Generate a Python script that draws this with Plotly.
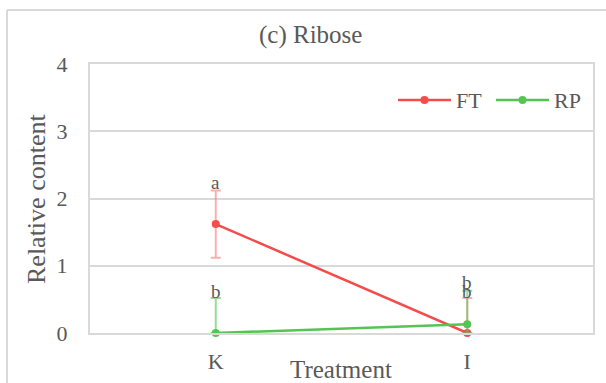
import plotly.graph_objects as go

categories = ["K", "I"]
ft_values = [1.62, 0.0]
ft_errors = [0.5, 0.52]
ft_letters = ["a", "b"]
rp_values = [0.0, 0.13]
rp_errors = [0.52, 0.5]
rp_letters = ["b", "b"]
series_names = ["FT", "RP"]

FONT = "Liberation Serif"
TXT = "#595959"
GRID = "#d9d9d9"

W, H = 606, 383
L, R, T, B = 90, 13, 64, 50
PW, PH = W - L - R, H - T - B

def px_x(px):
    return (px - L) / PW

def px_y(py):
    return (H - B - py) / PH

fig = go.Figure()

series = [
    (series_names[0], ft_values, ft_errors, ft_letters, "#f44b4b", "rgba(250,120,120,0.6)"),
    (series_names[1], rp_values, rp_errors, rp_letters, "#55c455", "rgba(100,200,100,0.65)"),
]

for name, vals, errs, letters, col, ecol in series:
    fig.add_trace(go.Scatter(
        x=categories, y=vals, name=name, mode="lines+markers",
        line=dict(color=col, width=2.5),
        marker=dict(color=col, size=8),
        cliponaxis=False, showlegend=False,
        error_y=dict(type="data", array=errs,
                     arrayminus=[min(e, v) for e, v in zip(errs, vals)],
                     color=ecol, thickness=2, width=5),
    ))

annotations = []
for name, vals, errs, letters, col, ecol in series:
    for c, v, e, t in zip(categories, vals, errs, letters):
        annotations.append(dict(
            x=c, y=v, xref="x", yref="y", text=t, showarrow=False,
            yanchor="middle", yshift=42,
            font=dict(family=FONT, size=19, color=TXT),
        ))

annotations.append(dict(
    x=px_x(36), y=px_y(199), xref="paper", yref="paper", text="Relative content",
    textangle=-90, showarrow=False, xanchor="center", yanchor="middle",
    font=dict(family=FONT, size=26, color=TXT),
))
annotations.append(dict(
    x=px_x(341), y=px_y(370), xref="paper", yref="paper", text="Treatment",
    showarrow=False, xanchor="center", yanchor="middle",
    font=dict(family=FONT, size=25, color=TXT),
))
annotations.append(dict(
    x=px_x(310), y=px_y(35), xref="paper", yref="paper", text="(c) Ribose",
    showarrow=False, xanchor="center", yanchor="middle",
    font=dict(family=FONT, size=25, color=TXT),
))

shapes = [
    dict(type="line", xref="paper", yref="paper", x0=px_x(7), x1=px_x(7),
         y0=px_y(10), y1=px_y(420), line=dict(color=GRID, width=2)),
    dict(type="line", xref="paper", yref="paper", x0=px_x(7), x1=px_x(620),
         y0=px_y(10), y1=px_y(10), line=dict(color=GRID, width=2)),
]

# custom legend (long line samples like the original)
leg_y = px_y(100)
leg_start = [398, 496]
for (name, vals, errs, letters, col, ecol), x0 in zip(series, leg_start):
    x1 = x0 + 53
    xm = (x0 + x1) / 2
    shapes.append(dict(type="line", xref="paper", yref="paper",
                       x0=px_x(x0), x1=px_x(x1), y0=leg_y, y1=leg_y,
                       line=dict(color=col, width=2.5)))
    shapes.append(dict(type="circle", xref="paper", yref="paper",
                       x0=px_x(xm - 4), x1=px_x(xm + 4),
                       y0=px_y(104), y1=px_y(96),
                       fillcolor=col, line=dict(color=col, width=0)))
    annotations.append(dict(x=px_x(x1 + 3), y=leg_y, xref="paper", yref="paper",
                            text=name, showarrow=False, xanchor="left",
                            yanchor="middle",
                            font=dict(family=FONT, size=22, color=TXT)))

fig.update_layout(
    width=W, height=H,
    margin=dict(l=L, r=R, t=T, b=B, autoexpand=False),
    paper_bgcolor="white", plot_bgcolor="white",
    font=dict(family=FONT, size=21, color=TXT),
    showlegend=False,
    annotations=annotations,
    shapes=shapes,
)
fig.update_xaxes(range=[-0.5, 1.5], showgrid=False, showline=True, mirror=True,
                 linecolor=GRID, linewidth=2, ticks="", ticklabelstandoff=8,
                 automargin=False,
                 tickfont=dict(family=FONT, size=22, color=TXT), zeroline=False)
fig.update_yaxes(range=[0, 4], dtick=1, showgrid=True, gridcolor=GRID, gridwidth=2,
                 showline=True, mirror=True, linecolor=GRID, linewidth=2,
                 ticks="", ticklabelstandoff=16, zeroline=False, automargin=False,
                 tickfont=dict(family=FONT, size=22, color=TXT))

fig.write_html("out.html")
